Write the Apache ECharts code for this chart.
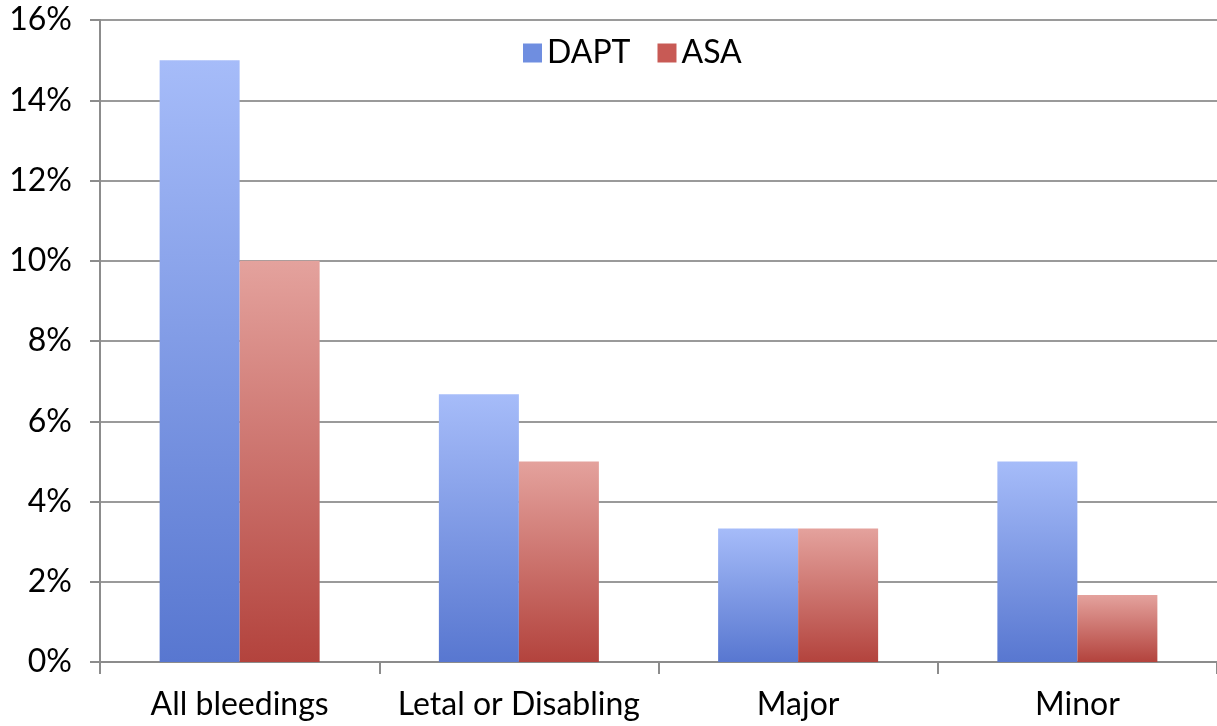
<!DOCTYPE html>
<html>
<head>
<meta charset="utf-8">
<script src="https://cdn.jsdelivr.net/npm/echarts@6/dist/echarts.min.js"></script>
<style>
  html, body { margin: 0; padding: 0; background: #fff; }
  #chart { width: 1217px; height: 726px; }
</style>
</head>
<body>
<div id="chart"></div>
<script>
// Bleeding event rates by type, DAPT vs ASA (percent of patients)
const categories = ['All bleedings', 'Letal or Disabling', 'Major', 'Minor'];
const daptValues = [15.0, 6.67, 3.33, 5.0];
const asaValues = [10.0, 5.0, 3.33, 1.67];
const yTicks = { min: 0, max: 16, interval: 2 };

const FONT = 'Lato, "Open Sans", sans-serif';

function vGradient(top, bottom) {
  return new echarts.graphic.LinearGradient(0, 0, 0, 1, [
    { offset: 0, color: top },
    { offset: 1, color: bottom }
  ]);
}

const chart = echarts.init(document.getElementById('chart'));
chart.setOption({
  animation: false,
  backgroundColor: '#ffffff',
  textStyle: { fontFamily: FONT },
  legend: {
    left: 518,
    top: 32,
    icon: 'rect',
    itemWidth: 19,
    itemHeight: 19,
    itemGap: 27,
    textStyle: { fontSize: 32, color: '#000', fontFamily: FONT },
    data: [
      { name: 'DAPT', itemStyle: { color: '#6f8ee0' } },
      { name: 'ASA', itemStyle: { color: '#c85a55' } }
    ]
  },
  grid: { left: 100, right: -11, top: 20, bottom: 64, containLabel: false },
  xAxis: {
    type: 'category',
    data: categories,
    boundaryGap: true,
    axisLine: { lineStyle: { color: '#8c8c8c', width: 2 } },
    axisTick: { show: true, length: 12, alignWithLabel: false, lineStyle: { color: '#8c8c8c', width: 2 } },
    axisLabel: { fontSize: 32, color: '#000', margin: 27, fontFamily: FONT, interval: 0 }
  },
  yAxis: {
    type: 'value',
    min: yTicks.min,
    max: yTicks.max,
    interval: yTicks.interval,
    axisLine: { show: true, lineStyle: { color: '#8c8c8c', width: 2 } },
    axisTick: { show: true, length: 10, lineStyle: { color: '#8c8c8c', width: 2 } },
    axisLabel: { fontSize: 32, color: '#000', margin: 28, formatter: '{value}%', fontFamily: FONT },
    splitLine: { show: true, lineStyle: { color: '#9a9a9a', width: 2 } }
  },
  series: [
    {
      name: 'DAPT',
      type: 'bar',
      data: daptValues,
      barWidth: 80,
      barGap: '0%',
      itemStyle: { color: vGradient('#a6bcf9', '#5877d0') }
    },
    {
      name: 'ASA',
      type: 'bar',
      data: asaValues,
      barWidth: 80,
      barGap: '0%',
      itemStyle: { color: vGradient('#e4a29d', '#b3433d') }
    }
  ]
});
</script>
</body>
</html>
